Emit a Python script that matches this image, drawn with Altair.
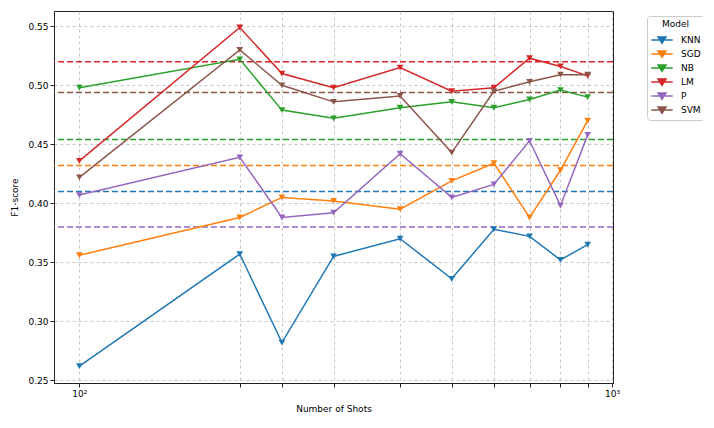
import altair as alt
import pandas as pd

shots = [100, 200, 240, 300, 400, 500, 600, 700, 800, 900]
models = ["KNN", "SGD", "NB", "LM", "P", "SVM"]
colors = ["#1f77b4", "#ff7f0e", "#2ca02c", "#d62728", "#9467bd", "#8c564b"]

knn = [0.262, 0.357, 0.282, 0.355, 0.370, 0.336, 0.378, 0.372, 0.352, 0.365]
sgd = [0.356, 0.388, 0.405, 0.402, 0.395, 0.419, 0.434, 0.388, 0.428, 0.470]
nb = [0.498, 0.522, 0.479, 0.472, 0.481, 0.486, 0.481, 0.488, 0.496, 0.490]
lm = [0.436, 0.549, 0.510, 0.498, 0.515, 0.495, 0.498, 0.523, 0.516, 0.508]
p = [0.407, 0.439, 0.388, 0.392, 0.442, 0.405, 0.416, 0.453, 0.398, 0.458]
svm = [0.422, 0.530, 0.500, 0.486, 0.491, 0.443, 0.495, 0.503, 0.509, 0.509]

baselines = [0.410, 0.432, 0.454, 0.520, 0.380, 0.494]

series = [knn, sgd, nb, lm, p, svm]
rows = []
for m, vals in zip(models, series):
    for s, v in zip(shots, vals):
        rows.append({"model": m, "shots": s, "f1": v})
df = pd.DataFrame(rows)
bdf = pd.DataFrame({"model": models, "f1": baselines})

color = alt.Color(
    "model:N",
    scale=alt.Scale(domain=models, range=colors),
    sort=models,
    legend=alt.Legend(
        title="Model",
        orient="none",
        legendX=593,
        legendY=5,
        symbolType="M-1.7,0L1.7,0M-0.63,-0.48L0.63,-0.48L0,0.52Z",
        symbolSize=159,
        symbolStrokeWidth=1.5,
        symbolOffset=4,
        labelOffset=11.5,
        labelFontSize=9,
        titleFontSize=9,
        titleFontWeight="normal",
        titleAnchor="middle",
        titlePadding=4,
        rowPadding=0,
        padding=3.5,
        strokeColor="#cccccc",
        fillColor="white",
        cornerRadius=3,
        labelFont="DejaVu Sans",
        titleFont="DejaVu Sans",
    ),
)

x = alt.X(
    "shots:Q",
    scale=alt.Scale(type="log", domain=[89.6, 1004], nice=False),
    axis=alt.Axis(
        title="Number of Shots",
        values=[100, 200, 240, 300, 400, 500, 600, 700, 800, 900, 1000],
        labelExpr="datum.value == 100 ? '10²' : (datum.value == 1000 ? '10³' : '')",
        labelFlush=False,
        titlePadding=6,
    ),
)
y = alt.Y(
    "f1:Q",
    scale=alt.Scale(domain=[0.2477, 0.563], nice=False, zero=False),
    axis=alt.Axis(
        title="F1-score",
        values=[0.25, 0.30, 0.35, 0.40, 0.45, 0.50, 0.55],
        format=".2f",
        titlePadding=8,
    ),
)

base = alt.Chart(df).encode(x=x, y=y, color=color)
lines = base.mark_line(strokeWidth=1.5)
points = base.mark_point(shape="triangle-down", filled=True, size=45, opacity=1)
rules = alt.Chart(bdf).mark_rule(strokeDash=[6, 3], strokeWidth=1.5).encode(
    y=alt.Y("f1:Q"), color=alt.Color("model:N", scale=alt.Scale(domain=models, range=colors), sort=models)
)

chart = (
    alt.layer(rules, lines, points)
    .properties(
        width=559,
        height=372,
        autosize=alt.AutoSizeParams(type="none"),
        padding={"left": 46, "top": 3, "right": 90, "bottom": 36},
    )
    .configure_view(stroke="#222222", strokeWidth=1)
    .configure_axis(
        grid=True,
        gridColor="#b8b8b8",
        gridDash=[3, 3],
        gridWidth=0.8,
        domainColor="#222222",
        tickColor="#222222",
        tickSize=4,
        labelFontSize=9,
        titleFontSize=9,
        titleFontWeight="normal",
        labelFont="DejaVu Sans",
        titleFont="DejaVu Sans",
        labelColor="black",
        titleColor="black",
    )
)

chart.save("out.html", embed_options={"renderer": "svg", "actions": False})
